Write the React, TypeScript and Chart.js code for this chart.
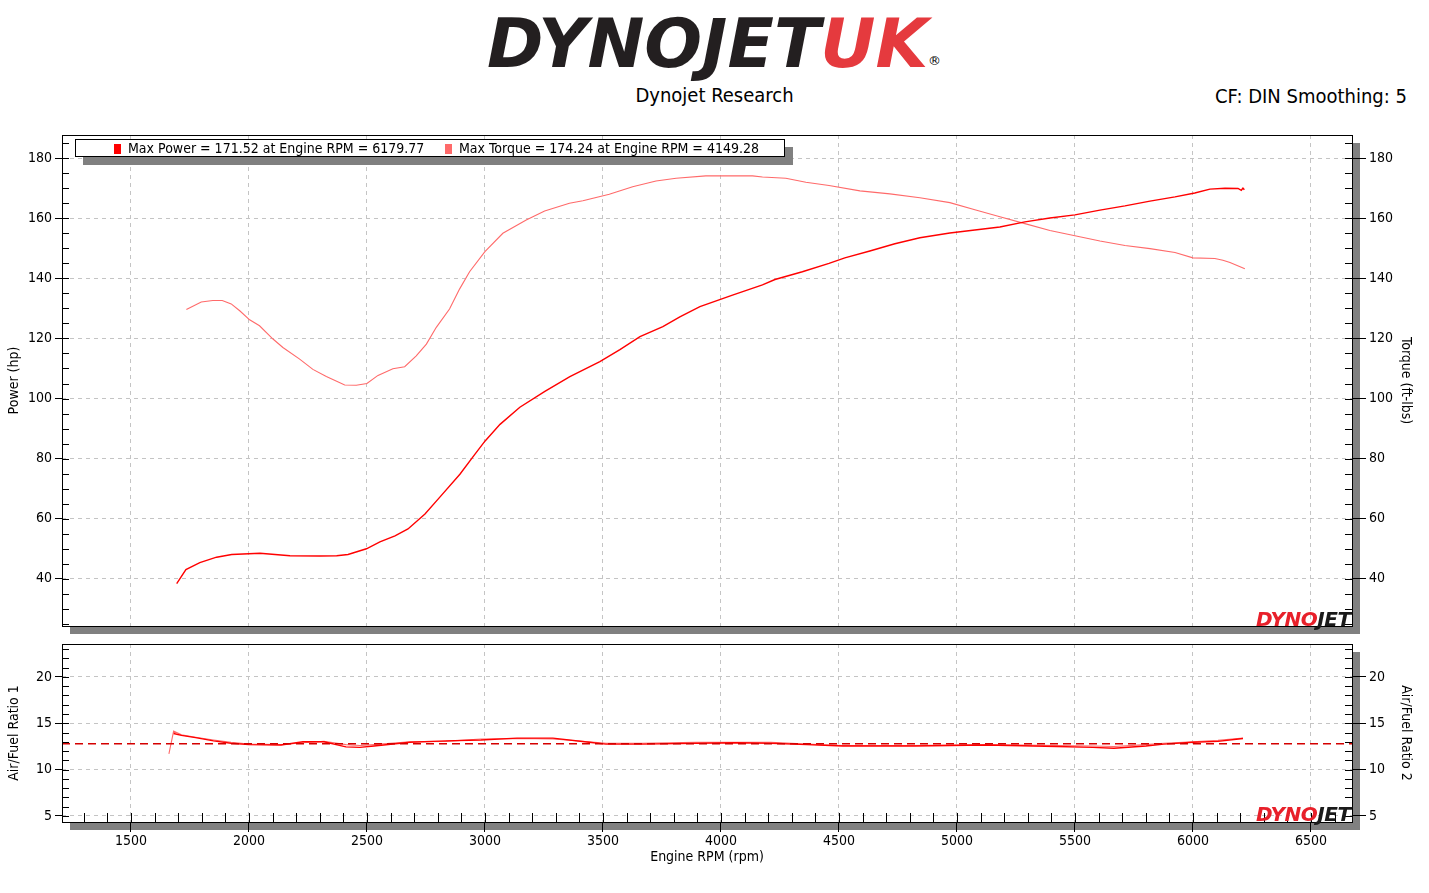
import React, { useEffect, useRef } from 'react';
import Chart from 'chart.js/auto';

// engine rpm range shown on the x axis
const RPM_MIN = 1208;
const RPM_MAX = 6674;

// tick labels
const rpmTicks = [1500, 2000, 2500, 3000, 3500, 4000, 4500, 5000, 5500, 6000, 6500];
const powerTicks = [40, 60, 80, 100, 120, 140, 160, 180];
const afrTicks = [5, 10, 15, 20];

// power (hp)
const powerRpm = [
  1694, 1733, 1792, 1863, 1927, 2047, 2174, 2300, 2372, 2420, 2498, 2555, 2619, 2674, 2746,
  2809, 2894, 2958, 3000, 3064, 3148, 3254, 3360, 3487, 3572, 3657, 3754, 3826, 3911, 4049,
  4176, 4229, 4345, 4458, 4525, 4631, 4737, 4843, 4970, 5076, 5182, 5288, 5394, 5500, 5606,
  5712, 5818, 5924, 6008, 6072, 6136, 6191, 6205, 6212, 6218,
];
const powerHp = [
  38.4, 43.1, 45.4, 47.2, 48.1, 48.5, 47.7, 47.6, 47.7, 48.1, 50.0, 52.3, 54.3, 56.6, 61.6,
  67.2, 74.8, 81.5, 85.8, 91.4, 97.1, 102.4, 107.3, 112.3, 116.3, 120.6, 123.9, 127.2, 130.6, 134.4,
  137.8, 139.6, 142.2, 145.0, 146.8, 149.1, 151.5, 153.5, 155.1, 156.1, 157.1, 158.8, 160.1, 161.1, 162.7,
  164.1, 165.7, 167.1, 168.4, 169.7, 170.0, 169.9, 169.3, 170.0, 169.5,
];

// torque (ft-lbs)
const torqueRpm = [
  1735, 1798, 1847, 1887, 1925, 1961, 2003, 2045, 2102, 2144, 2215, 2271, 2328, 2406, 2455,
  2500, 2547, 2610, 2660, 2709, 2752, 2794, 2850, 2893, 2935, 3000, 3076, 3175, 3253, 3358,
  3415, 3527, 3626, 3725, 3810, 3936, 4134, 4176, 4275, 4360, 4458, 4589, 4716, 4843, 4970,
  5076, 5182, 5288, 5394, 5500, 5606, 5712, 5818, 5924, 6000, 6093, 6127, 6157, 6220,
];
const torqueFtLb = [
  129.6, 132.1, 132.6, 132.6, 131.5, 129.2, 126.2, 124.2, 119.8, 117.0, 113.1, 109.7, 107.3, 104.5, 104.4,
  105.0, 107.7, 109.9, 110.6, 114.2, 118.1, 123.7, 129.8, 136.5, 142.2, 148.9, 155.0, 159.4, 162.4, 165.0,
  165.8, 168.0, 170.5, 172.4, 173.3, 174.1, 174.1, 173.7, 173.3, 172.0, 170.9, 169.1, 168.1, 166.8, 165.2,
  162.8, 160.5, 158.2, 155.9, 154.2, 152.4, 150.9, 149.9, 148.6, 146.8, 146.6, 146.0, 145.3, 143.2,
];

// air / fuel ratio, both sensors
const afrRpm = [
  1661, 1681, 1714, 1774, 1850, 1924, 2000, 2136, 2229, 2318, 2411, 2470, 2530, 2682, 2835,
  2983, 3136, 3288, 3441, 3513, 3665, 3894, 4062, 4212, 4364, 4517, 4818, 5123, 5424, 5576,
  5665, 5801, 5877, 6000, 6106, 6212,
];
const afr1 = [
  null, 13.9, 13.7, 13.45, 13.1, 12.85, 12.7, 12.65, 13.0, 13.0, 12.45, 12.4, 12.55, 12.95, 13.1,
  13.2, 13.4, 13.4, 12.95, 12.75, 12.75, 12.85, 12.9, 12.85, 12.7, 12.55, 12.55, 12.65, 12.5, 12.4,
  12.3, 12.55, 12.75, 12.95, 13.05, 13.35,
];
const afr2 = [
  11.7, 14.15, 13.75, 13.5, 13.2, 12.95, 12.75, 12.7, 12.9, 13.05, 12.7, 12.6, 12.7, 13.0, 13.05,
  13.3, 13.35, 13.3, 13.0, 12.85, 12.85, 12.95, 12.95, 12.95, 12.75, 12.6, 12.6, 12.7, 12.6, 12.55,
  12.5, 12.7, 12.85, 13.0, 13.15, 13.4,
];
const AFR_TARGET = 12.8;

const FONT = "'DejaVu Sans Condensed', 'DejaVu Sans', sans-serif";
const LOGO_FONT = "'DejaVu Sans', sans-serif";
const GRID = '#c4c4c4';
const POWER_COLOR = '#ff0000';
const TORQUE_COLOR = '#ff6a6a';

const pts = (xs: number[], ys: (number | null)[]) => xs.map((x, i) => ({ x, y: ys[i] }));

// shadow, plot frame and the small inner ticks the dyno software draws
const framePlugin = {
  id: 'frame',
  beforeDraw(chart: any) {
    const { ctx, chartArea: a } = chart;
    ctx.save();
    ctx.fillStyle = '#808080';
    ctx.fillRect(a.left + 8, a.bottom, a.right - a.left, 8);
    ctx.fillRect(a.right, a.top + 8, 8, a.bottom - a.top);
    ctx.restore();
  },
  afterDraw(chart: any, _args: any, opts: any) {
    const { ctx, chartArea: a, scales } = chart;
    ctx.save();
    ctx.strokeStyle = '#000';
    ctx.lineWidth = 1;
    ctx.beginPath();
    const ys = scales.y;
    for (let v = Math.ceil(ys.min / opts.yMinor) * opts.yMinor; v <= ys.max; v += opts.yMinor) {
      const p = Math.round(ys.getPixelForValue(v)) + 0.5;
      ctx.moveTo(a.left, p);
      ctx.lineTo(a.left + 7, p);
      ctx.moveTo(a.right - 7, p);
      ctx.lineTo(a.right, p);
    }
    if (opts.xMinor) {
      const xs = scales.x;
      for (let v = Math.ceil(xs.min / opts.xMinor) * opts.xMinor; v <= xs.max; v += opts.xMinor) {
        const p = Math.round(xs.getPixelForValue(v)) + 0.5;
        ctx.moveTo(p, a.bottom);
        ctx.lineTo(p, a.bottom - 9);
      }
    }
    ctx.stroke();
    ctx.strokeRect(Math.round(a.left) + 0.5, Math.round(a.top) + 0.5, Math.round(a.right - a.left), Math.round(a.bottom - a.top));
    ctx.restore();
  },
};

const fixTicks = (values: number[]) => (s: any) => {
  s.ticks = values.map((value) => ({ value }));
};

const yAxis = (position: 'left' | 'right', min: number, max: number, values: number[], title: string, onArea: boolean) => ({
  type: 'linear',
  position,
  min,
  max,
  afterBuildTicks: fixTicks(values),
  afterFit: (s: any) => {
    s.width = position === 'left' ? 62 : 77;
    s.paddingTop = 0;
    s.paddingBottom = 0;
  },
  border: { display: false, dash: [4, 4] },
  grid: {
    drawOnChartArea: onArea,
    color: GRID,
    tickColor: '#000',
    tickLength: position === 'left' ? 7 : 14,
  },
  ticks: {
    padding: 3,
    color: '#000',
    font: { family: FONT, size: 14 },
    callback: (v: number) => String(v),
  },
  title: {
    display: true,
    text: title,
    color: '#000',
    font: { family: FONT, size: 14 },
    padding: { top: position === 'left' ? 6 : 15, bottom: 0 },
  },
});

const xAxis = (labels: boolean) => ({
  type: 'linear',
  min: RPM_MIN,
  max: RPM_MAX,
  afterBuildTicks: fixTicks(rpmTicks),
  afterFit: (s: any) => {
    s.height = labels ? 50 : 14;
    s.paddingLeft = 0;
    s.paddingRight = 0;
  },
  border: { display: false, dash: [4, 4] },
  grid: { color: GRID, tickColor: '#000', tickLength: 10, drawTicks: labels },
  ticks: {
    display: labels,
    autoSkip: false,
    maxRotation: 0,
    padding: 1,
    color: '#000',
    font: { family: FONT, size: 14 },
    callback: (v: number) => String(v),
  },
  title: {
    display: labels,
    text: 'Engine RPM (rpm)',
    color: '#000',
    font: { family: FONT, size: 14 },
    padding: { top: 0, bottom: 6 },
  },
});

const line = (label: string, data: any[], color: string, width: number, extra: any = {}) => ({
  label,
  data,
  borderColor: color,
  backgroundColor: color,
  borderWidth: width,
  pointRadius: 0,
  tension: 0,
  fill: false,
  ...extra,
});

const App: React.FC = () => {
  const mainRef = useRef<HTMLCanvasElement | null>(null);
  const afrRef = useRef<HTMLCanvasElement | null>(null);

  useEffect(() => {
    const c1 = mainRef.current?.getContext('2d');
    const c2 = afrRef.current?.getContext('2d');
    if (!c1 || !c2) return;

    const main = new Chart(c1, {
      type: 'line',
      data: {
        datasets: [
          line('Power', pts(powerRpm, powerHp), POWER_COLOR, 1.4, { yAxisID: 'y' }),
          line('Torque', pts(torqueRpm, torqueFtLb), TORQUE_COLOR, 1.1, { yAxisID: 'y2' }),
        ],
      },
      options: {
        responsive: false,
        animation: false,
        devicePixelRatio: 1,
        layout: { padding: { top: 5, left: 0, right: 0, bottom: 0 } },
        plugins: {
          legend: { display: false },
          tooltip: { enabled: false },
          frame: { yMinor: 5 },
        } as any,
        scales: {
          x: xAxis(false),
          y: yAxis('left', 24.3, 187.7, powerTicks, 'Power (hp)', true),
          y2: yAxis('right', 24.3, 187.7, powerTicks, 'Torque (ft-lbs)', false),
        } as any,
      },
      plugins: [framePlugin],
    });

    const afr = new Chart(c2, {
      type: 'line',
      data: {
        datasets: [
          line('Target', [{ x: RPM_MIN, y: AFR_TARGET }, { x: RPM_MAX, y: AFR_TARGET }], '#d40000', 1.5, {
            borderDash: [8, 5],
            yAxisID: 'y',
          }),
          line('Air/Fuel Ratio 1', pts(afrRpm, afr1), POWER_COLOR, 1.4, { yAxisID: 'y', spanGaps: true }),
          line('Air/Fuel Ratio 2', pts(afrRpm, afr2), TORQUE_COLOR, 1.1, { yAxisID: 'y2' }),
        ],
      },
      options: {
        responsive: false,
        animation: false,
        devicePixelRatio: 1,
        layout: { padding: { top: 4, left: 0, right: 0, bottom: 0 } },
        plugins: {
          legend: { display: false },
          tooltip: { enabled: false },
          frame: { yMinor: 1, xMinor: 100 },
        } as any,
        scales: {
          x: xAxis(true),
          y: yAxis('left', 4.35, 23.55, afrTicks, 'Air/Fuel Ratio 1', true),
          y2: yAxis('right', 4.35, 23.55, afrTicks, 'Air/Fuel Ratio 2', false),
        } as any,
      },
      plugins: [framePlugin],
    });

    return () => {
      main.destroy();
      afr.destroy();
    };
  }, []);

  const txt = (extra: React.CSSProperties): React.CSSProperties => ({
    position: 'absolute',
    fontFamily: FONT,
    lineHeight: 1,
    whiteSpace: 'nowrap',
    color: '#000',
    ...extra,
  });

  const mark = (left: number, color: string): React.CSSProperties => ({
    position: 'absolute',
    left,
    top: 4,
    width: 7,
    height: 10,
    background: color,
  });

  return (
    <div style={{ position: 'absolute', left: 0, top: 0, width: 1429, height: 893, background: '#fff', overflow: 'hidden' }}>
      {/* header */}
      <div style={txt({ left: 487, top: 10, fontSize: 68, fontWeight: 900, fontStyle: 'italic', fontFamily: LOGO_FONT, letterSpacing: 0 })}>
        <span style={{ color: '#231f20' }}>DYNOJET</span>
        <span style={{ color: '#e53a3e' }}>UK</span>
      </div>
      <div style={txt({ left: 928, top: 54, fontSize: 13, fontFamily: LOGO_FONT })}>®</div>
      <div style={txt({ left: 0, width: 1429, textAlign: 'center', top: 85, fontSize: 20 })}>Dynojet Research</div>
      <div style={txt({ right: 22, top: 86, fontSize: 20 })}>CF: DIN Smoothing: 5</div>

      <canvas ref={mainRef} width={1429} height={510} style={{ position: 'absolute', left: 0, top: 130 }} />
      <canvas ref={afrRef} width={1429} height={232} style={{ position: 'absolute', left: 0, top: 640 }} />

      {/* legend */}
      <div
        style={{
          position: 'absolute',
          left: 75,
          top: 139,
          width: 708,
          height: 16,
          border: '1px solid #000',
          background: '#fff',
          boxShadow: '8px 8px 0 #808080',
        }}
      >
        <div style={mark(38, POWER_COLOR)} />
        <div style={txt({ left: 52, top: 1, fontSize: 14 })}>Max Power = 171.52 at Engine RPM = 6179.77</div>
        <div style={mark(369, TORQUE_COLOR)} />
        <div style={txt({ left: 383, top: 1, fontSize: 14 })}>Max Torque = 174.24 at Engine RPM = 4149.28</div>
      </div>

      {/* watermarks */}
      {[609, 804].map((top) => (
        <div key={top} style={txt({ left: 1256, top, fontSize: 20, fontWeight: 900, fontStyle: 'italic', fontFamily: LOGO_FONT, letterSpacing: -0.5 })}>
          <span style={{ color: '#e8202a' }}>DYNO</span>
          <span style={{ color: '#1a1a1a' }}>JET</span>
        </div>
      ))}
    </div>
  );
};

export default App;
